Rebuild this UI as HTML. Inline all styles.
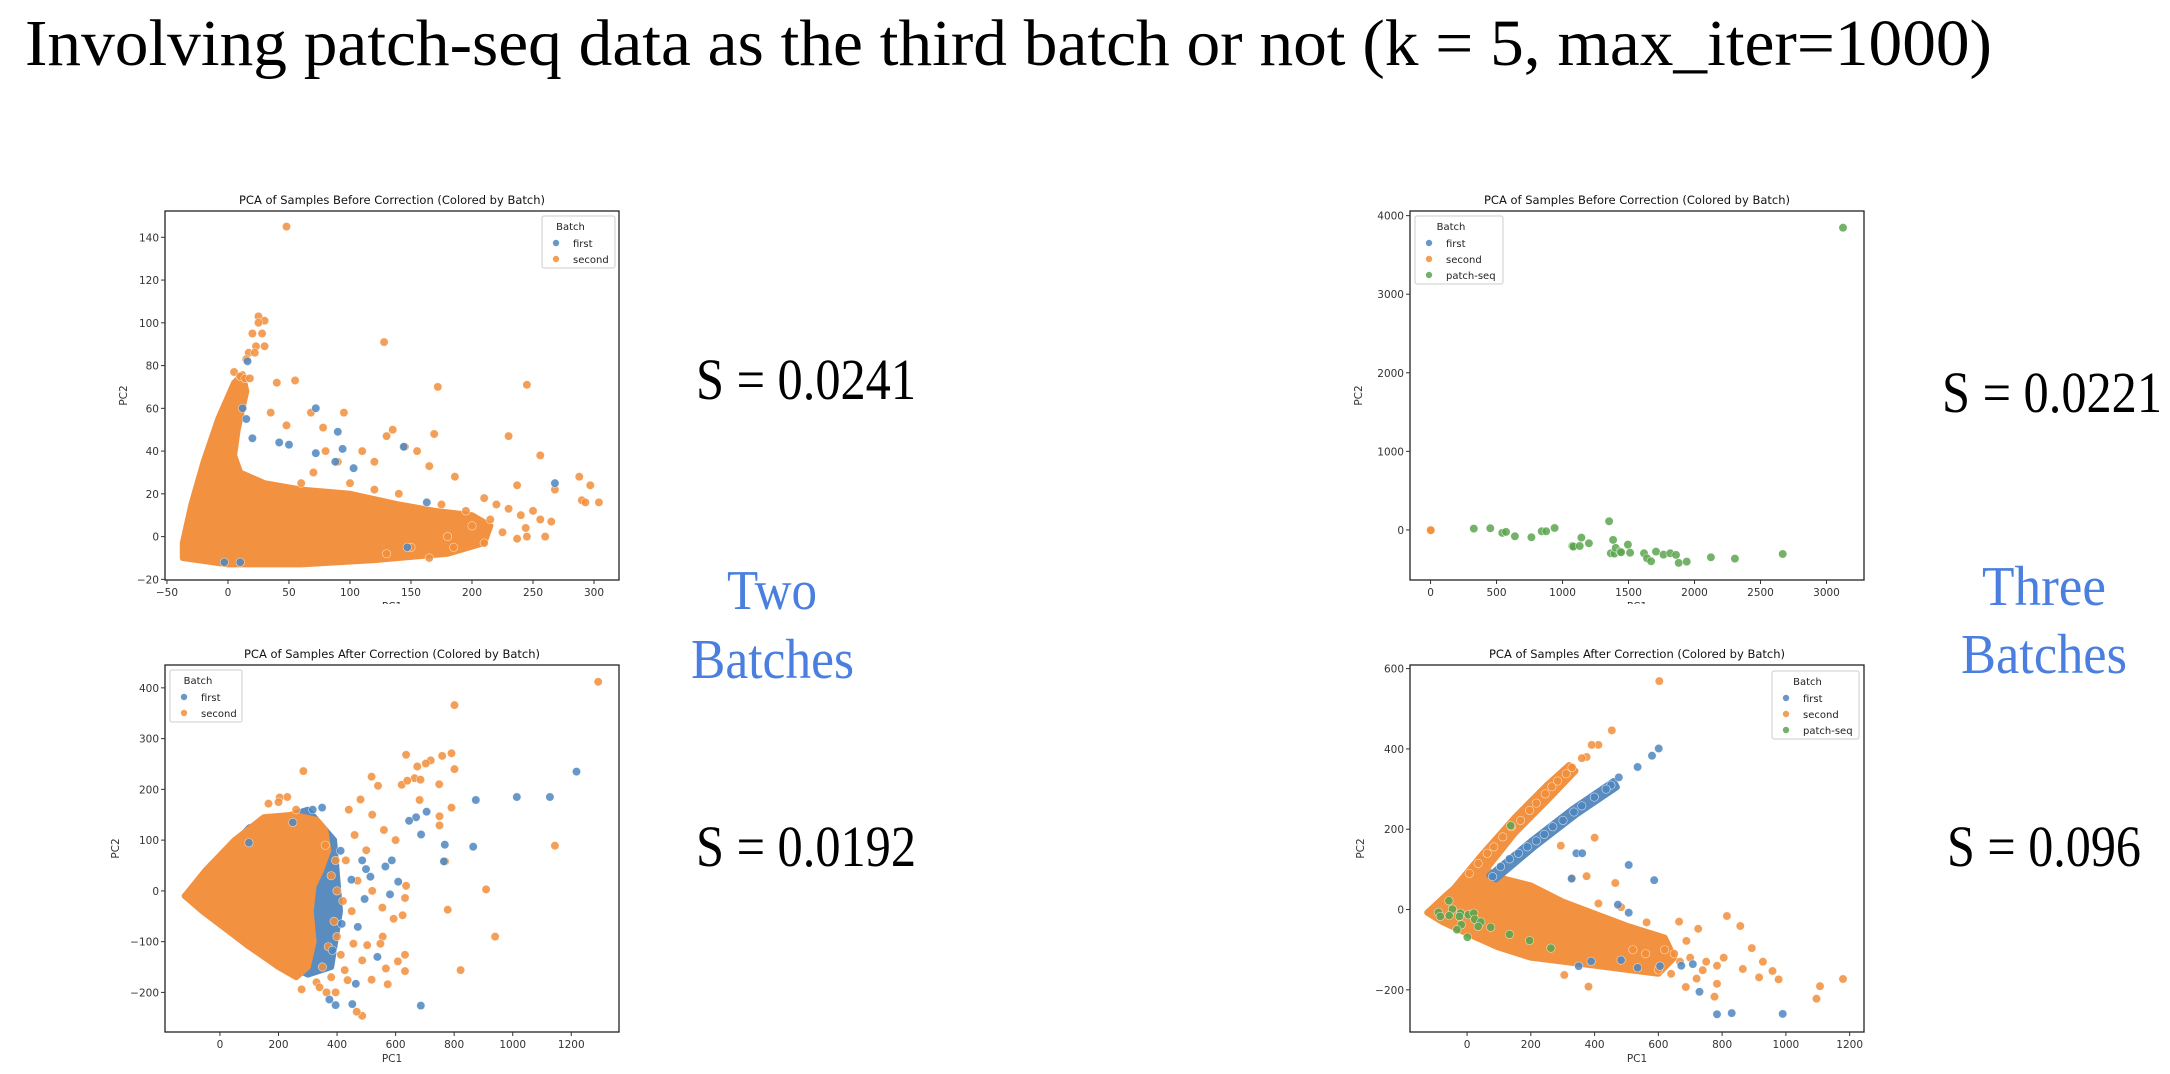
<!DOCTYPE html>
<html><head><meta charset="utf-8"><style>
html,body{margin:0;padding:0;background:#fff;}
svg{display:block;}
</style></head><body>
<svg id="page" width="2170" height="1074" viewBox="0 0 2170 1074" xmlns="http://www.w3.org/2000/svg">
<text x="25" y="65" font-family="Liberation Serif, serif" font-size="66" textLength="1967" lengthAdjust="spacingAndGlyphs" fill="#000">Involving patch-seq data as the third batch or not (k = 5, max_iter=1000)</text>
<g font-family="Liberation Serif, serif" font-size="58" fill="#000">
<text x="696" y="399" textLength="220" lengthAdjust="spacingAndGlyphs">S = 0.0241</text>
<text x="696" y="866" textLength="220" lengthAdjust="spacingAndGlyphs">S = 0.0192</text>
<text x="1942" y="412" textLength="220" lengthAdjust="spacingAndGlyphs">S = 0.0221</text>
<text x="1947" y="866" textLength="194" lengthAdjust="spacingAndGlyphs">S = 0.096</text>
</g>
<g font-family="Liberation Serif, serif" font-size="56" fill="#4a7fe0">
<text x="727" y="609" textLength="90" lengthAdjust="spacingAndGlyphs">Two</text>
<text x="691" y="678" textLength="163" lengthAdjust="spacingAndGlyphs">Batches</text>
<text x="1982" y="605" textLength="124" lengthAdjust="spacingAndGlyphs">Three</text>
<text x="1961" y="673" textLength="166" lengthAdjust="spacingAndGlyphs">Batches</text>
</g>
<defs><clipPath id="cutTop"><rect x="0" y="0" width="2170" height="604"/></clipPath></defs>
</svg>
<script>
// ---------- data ----------
// Plot 1: before correction, two batches
const p1Xticks = [-50,0,50,100,150,200,250,300];
const p1Yticks = [-20,0,20,40,60,80,100,120,140];
const p1DenseOrange = [-37,-10,-37,-3,-30,15,-20,35,-8,55,5,72,12,76,15,68,8,50,5,38,10,30,30,25,60,22,100,20,140,15,170,12,200,10,215,5,210,-3,180,-8,120,-11,60,-13,0,-13];
const p1Orange = [48,145,25,103,30,101,25,100,20,95,28,95,23,89,30,89,17,86,22,86,15,83,5,77,10,75,14,74,18,74,40,72,55,73,128,91,172,70,245,71,35,58,95,58,68,58,48,52,78,51,135,50,130,47,169,48,230,47,256,38,80,40,110,40,90,35,120,35,165,33,186,28,237,24,288,28,297,24,268,22,290,17,293,16,304,16,210,18,220,15,230,13,240,10,250,12,256,8,265,7,244,4,237,-1,245,0,260,0,200,5,180,0,185,-5,165,-10,130,-8,150,-5,155,40,145,42,60,25,70,30,100,25,140,20,120,22,175,15,195,12,215,8,225,2,210,-3];
const p1Blue = [72,60,90,49,42,44,50,43,94,41,144,42,72,39,268,25,20,46,15,55,12,60,16,82,88,35,103,32,163,16,147,-5,10,-12,-3,-12];
const p1Green = [];
// Plot 2: before correction, three batches
const p2Xticks = [0,500,1000,1500,2000,2500,3000];
const p2Yticks = [0,1000,2000,3000,4000];
const p2DenseOrange = [];
const p2Orange = [0,0,2,-5];
const p2Blue = [];
const p2Green = [328,17,453,21,544,-38,572,-25,639,-81,764,-93,842,-17,876,-17,940,25,1075,-204,1082,-212,1130,-204,1143,-98,1200,-170,1353,110,1383,-127,1366,-297,1393,-301,1403,-229,1437,-276,1444,-284,1495,-187,1512,-289,1617,-297,1640,-361,1671,-399,1708,-276,1765,-314,1816,-297,1860,-318,1880,-420,1941,-403,2124,-348,2306,-365,2668,-306,3125,3847];
// Plot 3: after correction, two batches
const p3Xticks = [0,200,400,600,800,1000,1200];
const p3Yticks = [-200,-100,0,100,200,300,400];
const p3DenseBlue = [-120,-10,100,125,300,160,390,100,410,-40,380,-150,300,-165,100,-110];
const p3DenseOrange = [-120,-10,-50,40,50,100,150,145,250,150,330,140,360,120,370,80,345,40,320,10,310,-40,320,-100,300,-150,260,-170,200,-150,100,-110,20,-75,-60,-40];
const p3Orange = [1292,412,801,366,636,268,791,271,759,266,801,240,285,236,720,257,703,251,674,245,518,225,540,207,665,222,685,219,749,210,621,209,640,217,1144,89,909,3,940,-90,778,-37,822,-156,682,179,791,164,750,147,750,129,769,58,204,184,166,172,636,10,632,-14,624,-48,593,-55,556,-90,632,-126,608,-139,632,-158,567,-153,573,-184,486,-246,467,-238,436,-176,364,-200,395,-200,279,-194,518,-175,486,-137,503,-107,456,-104,548,-104,413,-126,555,-33,426,-156,440,160,480,180,520,150,560,120,600,100,460,110,500,80,430,60,470,20,520,0,450,-40,400,-90,350,-150,330,-180,420,-20,380,30,390,-60,370,-110,360,90,395,60,400,0,380,-170,340,-190,230,185,260,160,200,175];
const p3Blue = [1218,235,1127,185,1014,185,874,179,706,156,670,145,646,138,768,91,865,87,765,58,687,111,686,-226,587,60,565,48,609,18,581,-7,514,28,538,-130,464,-183,452,-223,395,-225,374,-214,384,-117,416,-65,471,-71,494,-16,449,22,412,79,349,164,317,160,249,135,99,95,499,43,486,60];
const p3Green = [];
// Plot 4: after correction, three batches
const p4Xticks = [0,200,400,600,800,1000,1200];
const p4Yticks = [-200,0,200,400,600];
const p4DenseOrange = [-125,-8,-60,40,0,80,60,100,100,80,200,60,300,20,400,-10,500,-40,620,-70,650,-120,600,-160,500,-150,400,-140,300,-130,200,-120,100,-95,0,-60,-80,-30];
const p4OrangeArm = [-60,35,50,140,150,230,250,310,320,360,340,345,250,270,150,190,80,120,20,60];
const p4BlueArm = [70,85,200,170,330,250,460,320,470,305,340,235,210,155,90,75];
const p4Orange = [454,446,412,410,391,410,375,380,360,377,329,354,311,338,284,320,266,306,245,288,217,265,196,247,168,222,139,206,112,181,84,156,63,140,35,115,7,90,603,569,400,179,294,159,375,83,465,66,329,78,412,15,815,-16,857,-41,893,-96,928,-130,958,-153,977,-174,916,-169,865,-148,805,-120,784,-140,776,-217,784,-185,739,-151,720,-172,686,-193,668,-130,665,-30,725,-48,688,-78,1107,-191,1096,-222,1179,-173,381,-192,305,-163,563,-32,483,6,620,-100,650,-110,700,-120,750,-130,560,-110,520,-100,600,-150,640,-160];
const p4Blue = [601,401,580,383,535,355,476,329,451,310,436,300,399,280,360,258,335,243,301,222,269,206,242,187,217,171,189,156,161,140,133,126,105,107,80,82,507,111,587,73,343,140,361,140,328,77,473,12,507,-8,672,-140,729,-205,784,-261,830,-258,990,-260,708,-136,605,-141,535,-145,389,-129,350,-141,483,-126];
const p4Green = [137,209,-57,22,-90,-7,-84,-17,-46,1,-21,-9,-24,-17,4,-13,21,-9,24,-24,43,-31,35,-42,74,-44,-18,-38,-32,-50,1,-69,133,-62,196,-77,263,-96,-56,-15];

// ---------- layout ----------
const NS = 'http://www.w3.org/2000/svg';
const svg = document.getElementById('page');
const C = {blue:'#4c86bf', orange:'#f28e3b', green:'#5aa54e', dense:'#f2913f', denseBlue:'#5a8cc0'};
function mk(tag, attrs, parent){const e=document.createElementNS(NS,tag);for(const k in attrs)e.setAttribute(k,attrs[k]);(parent||svg).appendChild(e);return e;}
function fmt(v){return v<0?'\u2212'+Math.abs(v):String(v);}

function plot(cfg){
  const g = mk('g',{});
  
  
  const sx = v => cfg.x0 + (v-cfg.xmin)/(cfg.xmax-cfg.xmin)*(cfg.x1-cfg.x0);
  const sy = v => cfg.y1 - (v-cfg.ymin)/(cfg.ymax-cfg.ymin)*(cfg.y1-cfg.y0);
  const poly = (arr, fill, nm) => {
    if(!arr || !arr.length) return;
    let pts=[];for(let i=0;i<arr.length;i+=2)pts.push(sx(arr[i]).toFixed(1)+','+sy(arr[i+1]).toFixed(1));
    const p = mk('polygon',{points:pts.join(' '),fill:fill,stroke:fill,'stroke-width':6,'stroke-linejoin':'round'},g);
    
    
  };
  const pts = (arr, fill, nm) => {
    for(let i=0;i<arr.length;i+=2){
      const c = mk('circle',{cx:sx(arr[i]).toFixed(1),cy:sy(arr[i+1]).toFixed(1),r:4.2,fill:fill,'fill-opacity':0.85,stroke:'#fff','stroke-width':0.6,'stroke-opacity':0.7},g);
      
      
    }
  };
  poly(cfg.denseBlue, C.denseBlue, 'dense-first-region');
  poly(cfg.dense, C.dense, 'dense-second-region');
  poly(cfg.arm, C.dense, 'second-arm-region');
  poly(cfg.blueArm, C.denseBlue, 'first-arm-region');
  pts(cfg.orange, C.orange, 'point-second');
  pts(cfg.blue, C.blue, 'point-first');
  pts(cfg.green, C.green, 'point-patch-seq');
  const fr = mk('rect',{x:cfg.x0,y:cfg.y0,width:cfg.x1-cfg.x0,height:cfg.y1-cfg.y0,fill:'none',stroke:'#222','stroke-width':1.3},g);
  
  
  const tg = mk('g',{'font-family':'DejaVu Sans, Liberation Sans, sans-serif','font-size':10.5,fill:'#333'},g);
  cfg.xticks.forEach(v=>{
    const x=sx(v);
    mk('line',{x1:x,x2:x,y1:cfg.y1,y2:cfg.y1+4,stroke:'#333','stroke-width':1},tg);
    const t=mk('text',{x:x,y:cfg.y1+16,'text-anchor':'middle'},tg);t.textContent=fmt(v);
    
    
  });
  cfg.yticks.forEach(v=>{
    const y=sy(v);
    mk('line',{x1:cfg.x0-4,x2:cfg.x0,y1:y,y2:y,stroke:'#333','stroke-width':1},tg);
    const t=mk('text',{x:cfg.x0-6,y:y+4,'text-anchor':'end'},tg);t.textContent=fmt(v);
    
    
  });
  const tt=mk('text',{x:(cfg.x0+cfg.x1)/2,y:cfg.y0-7,'text-anchor':'middle','font-size':11.5,fill:'#111'},tg);tt.textContent=cfg.title;
  
  
  const xl=mk('text',{x:(cfg.x0+cfg.x1)/2,y:cfg.y1+30,'text-anchor':'middle'},tg);xl.textContent='PC1';
  if(cfg.cut) xl.setAttribute('clip-path','url(#cutTop)');
  
  
  const yl=mk('text',{x:0,y:0,'text-anchor':'middle',transform:'translate('+(cfg.x0-cfg.ylabOff)+','+((cfg.y0+cfg.y1)/2)+') rotate(-90)'},tg);yl.textContent='PC2';
  
  
  const L = cfg.legend;
  const lg = mk('g',{},g);
  
  
  mk('rect',{x:L.x,y:L.y,width:L.w,height:16+16*L.items.length+4,rx:2,fill:'#fff','fill-opacity':0.85,stroke:'#ccc','stroke-width':1},lg);
  const lt=mk('text',{x:L.x+L.w/2-8,y:L.y+14,'text-anchor':'middle','font-family':'DejaVu Sans, sans-serif','font-size':10,fill:'#222'},lg);lt.textContent='Batch';
  
  
  L.items.forEach((it,i)=>{
    const y=L.y+31+16*i;
    mk('circle',{cx:L.x+14,cy:y-4,r:3.2,fill:it[1],'fill-opacity':0.85},lg);
    const t=mk('text',{x:L.x+31,y:y,'font-family':'DejaVu Sans, sans-serif','font-size':10,fill:'#222'},lg);t.textContent=it[0];
    
    
  });
}
const two=[['first',C.blue],['second',C.orange]];
const three=[['first',C.blue],['second',C.orange],['patch-seq',C.green]];
plot({name:'plot-two-batches-before',x0:165,x1:619,y0:211,y1:580,xmin:-51.6,xmax:320.5,ymin:-20.3,ymax:152.3,xticks:p1Xticks,yticks:p1Yticks,dense:p1DenseOrange,orange:p1Orange,blue:p1Blue,green:p1Green,title:'PCA of Samples Before Correction (Colored by Batch)',ylabOff:38,cut:true,legend:{x:542,y:216,w:73,items:two}});
plot({name:'plot-three-batches-before',x0:1410,x1:1864,y0:211,y1:580,xmin:-155.6,xmax:3284,ymin:-637,ymax:4059,xticks:p2Xticks,yticks:p2Yticks,dense:p2DenseOrange,orange:p2Orange,blue:p2Blue,green:p2Green,title:'PCA of Samples Before Correction (Colored by Batch)',ylabOff:48,cut:true,legend:{x:1415,y:216,w:88,items:three}});
plot({name:'plot-two-batches-after',x0:165,x1:619,y0:665,y1:1032,xmin:-187.6,xmax:1363,ymin:-278,ymax:445,xticks:p3Xticks,yticks:p3Yticks,denseBlue:p3DenseBlue,dense:p3DenseOrange,orange:p3Orange,blue:p3Blue,green:p3Green,title:'PCA of Samples After Correction (Colored by Batch)',ylabOff:46,cut:false,legend:{x:170,y:670,w:72,items:two}});
plot({name:'plot-three-batches-after',x0:1410,x1:1864,y0:665,y1:1032,xmin:-179,xmax:1245,ymin:-305,ymax:609,xticks:p4Xticks,yticks:p4Yticks,dense:p4DenseOrange,arm:p4OrangeArm,blueArm:p4BlueArm,orange:p4Orange,blue:p4Blue,green:p4Green,title:'PCA of Samples After Correction (Colored by Batch)',ylabOff:46,cut:false,legend:{x:1772,y:671,w:87,items:three}});
</script>
</body></html>
